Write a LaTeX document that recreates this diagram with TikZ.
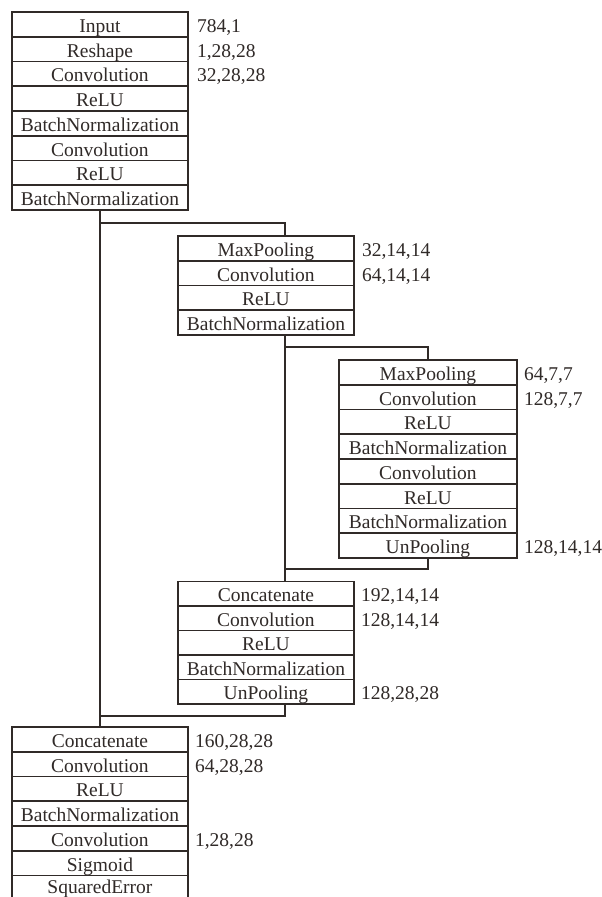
\documentclass[tikz,border=0pt]{standalone}
\usepackage{fontspec}
\setmainfont{Liberation Serif}
\usetikzlibrary{calc}
\definecolor{ink}{RGB}{48,42,40}
\tikzset{
  layer/.style={draw=ink, line width=1.9pt, minimum width=176pt, minimum height=24.75pt,
    inner sep=0pt, text height=17.5pt, text depth=1.5pt, anchor=north west, text=ink,
    font=\fontsize{19.5}{22}\selectfont},
  dimlab/.style={anchor=base west, inner sep=0pt, text=ink, font=\fontsize{19.5}{22}\selectfont},
  wire/.style={draw=ink, line width=1.9pt}
}
\begin{document}
\begin{tikzpicture}[x=1pt,y=-1pt]
\clip (0,0) rectangle (602,897);
\fill[white] (0,0) rectangle (602,897);
% Block 1
\node[layer] (a1) at (11,11) {Input};
\node[layer] (a2) at (11,35.75) {Reshape};
\node[layer] (a3) at (11,60.5) {Convolution};
\node[layer] (a4) at (11,85.25) {ReLU};
\node[layer] (a5) at (11,110) {BatchNormalization};
\node[layer] (a6) at (11,134.75) {Convolution};
\node[layer] (a7) at (11,159.5) {ReLU};
\node[layer] (a8) at (11,184.25) {BatchNormalization};
\node[dimlab] (la1) at ($(a1.base east)+(8,0)$) {784,1};
\node[dimlab] (la2) at ($(a2.base east)+(8,0)$) {1,28,28};
\node[dimlab] (la3) at ($(a3.base east)+(8,0)$) {32,28,28};
% Block 2
\node[layer] (b1) at (177,235) {MaxPooling};
\node[layer] (b2) at (177,259.75) {Convolution};
\node[layer] (b3) at (177,284.5) {ReLU};
\node[layer] (b4) at (177,309.25) {BatchNormalization};
\node[dimlab] (lb1) at ($(b1.base east)+(7,0)$) {32,14,14};
\node[dimlab] (lb2) at ($(b2.base east)+(7,0)$) {64,14,14};
% Block 3
\node[layer, minimum width=178pt] (c1) at (338,359) {MaxPooling};
\node[layer, minimum width=178pt] (c2) at (338,383.75) {Convolution};
\node[layer, minimum width=178pt] (c3) at (338,408.5) {ReLU};
\node[layer, minimum width=178pt] (c4) at (338,433.25) {BatchNormalization};
\node[layer, minimum width=178pt] (c5) at (338,458) {Convolution};
\node[layer, minimum width=178pt] (c6) at (338,482.75) {ReLU};
\node[layer, minimum width=178pt] (c7) at (338,507.5) {BatchNormalization};
\node[layer, minimum width=178pt] (c8) at (338,532.25) {UnPooling};
\node[dimlab] (lc1) at ($(c1.base east)+(6,0)$) {64,7,7};
\node[dimlab] (lc2) at ($(c2.base east)+(6,0)$) {128,7,7};
\node[dimlab] (lc8) at ($(c8.base east)+(6,0)$) {128,14,14};
% Block 2b
\node[layer, minimum height=24.5pt] (d1) at (177,580.5) {Concatenate};
\node[layer, minimum height=24.5pt] (d2) at (177,605) {Convolution};
\node[layer, minimum height=24.5pt] (d3) at (177,629.5) {ReLU};
\node[layer, minimum height=24.5pt] (d4) at (177,654) {BatchNormalization};
\node[layer, minimum height=24.5pt] (d5) at (177,678.5) {UnPooling};
\node[dimlab] (ld1) at ($(d1.base east)+(6,0)$) {192,14,14};
\node[dimlab] (ld2) at ($(d2.base east)+(6,0)$) {128,14,14};
\node[dimlab] (ld5) at ($(d5.base east)+(6,0)$) {128,28,28};
% Block 4
\node[layer] (e1) at (11,726) {Concatenate};
\node[layer] (e2) at (11,750.75) {Convolution};
\node[layer] (e3) at (11,775.5) {ReLU};
\node[layer] (e4) at (11,800.25) {BatchNormalization};
\node[layer] (e5) at (11,825) {Convolution};
\node[layer] (e6) at (11,849.75) {Sigmoid};
\node[layer, text depth=6.5pt] (e7) at (11,874.5) {SquaredError};
\node[dimlab] (le1) at ($(e1.base east)+(6,0)$) {160,28,28};
\node[dimlab] (le2) at ($(e2.base east)+(6,0)$) {64,28,28};
\node[dimlab] (le5) at ($(e5.base east)+(6,0)$) {1,28,28};
% Connection points
\coordinate (bin) at ($(b1.north west)+(108,0)$);
\coordinate (bout) at ($(b4.south west)+(108,0)$);
\coordinate (din) at ($(d1.north west)+(108,0)$);
\coordinate (dout) at ($(d5.south west)+(108,0)$);
% Connectors
\draw[wire] (a8.south) -- (e1.north);
\draw[wire] ($(a8.south)+(0,11.7)$) -| (bin);
\draw[wire] (bout) -- (din);
\draw[wire] ($(bout)+(0,11)$) -| (c1.north);
\draw[wire] (c8.south) |- ($(din)+(0,-11.5)$);
\draw[wire] (dout) |- ($(e1.north)+(0,-10)$);
\end{tikzpicture}
\end{document}
